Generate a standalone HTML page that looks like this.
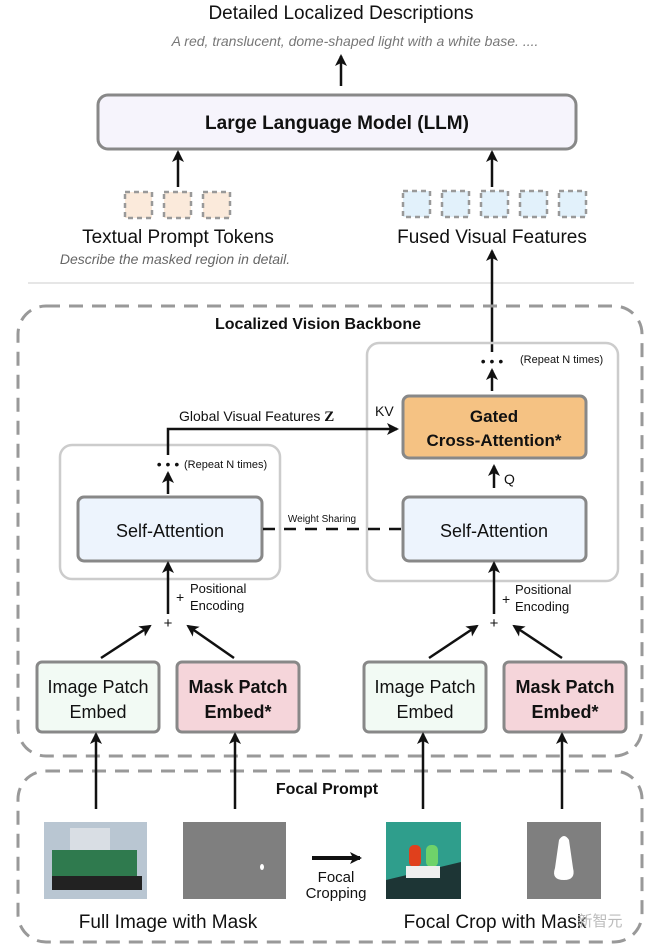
<!DOCTYPE html>
<html><head><meta charset="utf-8"><style>
body{margin:0;background:#fff}
svg{display:block;font-family:"Liberation Sans","Noto Sans CJK SC",sans-serif}
</style></head><body>
<svg width="660" height="946" viewBox="0 0 660 946" xmlns="http://www.w3.org/2000/svg">
<defs>
<marker id="a" markerWidth="12" markerHeight="12" refX="10" refY="6" orient="auto" markerUnits="userSpaceOnUse"><path d="M0,0 L12,6 L0,12 L3,6z" fill="#111"/></marker>
</defs>
<text x="341" y="19" font-size="19" text-anchor="middle" fill="#111">Detailed Localized Descriptions</text>
<text x="355" y="46" font-size="14" font-style="italic" text-anchor="middle" fill="#777">A red, translucent, dome-shaped light with a white base. ....</text>
<line x1="341" y1="86" x2="341" y2="56" stroke="#111" stroke-width="2.5" marker-end="url(#a)"/>
<rect x="98" y="95" width="478" height="54" rx="10" fill="#f6f4fc" stroke="#888" stroke-width="3"/>
<text x="337" y="129" font-size="19" font-weight="bold" text-anchor="middle" fill="#111">Large Language Model (LLM)</text>
<line x1="178" y1="187" x2="178" y2="152" stroke="#111" stroke-width="2.5" marker-end="url(#a)"/>
<line x1="492" y1="187" x2="492" y2="152" stroke="#111" stroke-width="2.5" marker-end="url(#a)"/>
<g fill="#fbeadb" stroke="#999" stroke-width="2.5" stroke-dasharray="5,4">
<rect x="125" y="192" width="27" height="26"/><rect x="164" y="192" width="27" height="26"/><rect x="203" y="192" width="27" height="26"/>
</g>
<g fill="#e2f1fb" stroke="#999" stroke-width="2.5" stroke-dasharray="5,4">
<rect x="403" y="191" width="27" height="26"/><rect x="442" y="191" width="27" height="26"/><rect x="481" y="191" width="27" height="26"/><rect x="520" y="191" width="27" height="26"/><rect x="559" y="191" width="27" height="26"/>
</g>
<text x="178" y="243" font-size="19" text-anchor="middle" fill="#111">Textual Prompt Tokens</text>
<text x="175" y="264" font-size="14" font-style="italic" text-anchor="middle" fill="#666">Describe the masked region in detail.</text>
<text x="492" y="243" font-size="19" text-anchor="middle" fill="#111">Fused Visual Features</text>
<line x1="28" y1="283" x2="634" y2="283" stroke="#ccc" stroke-width="1"/>
<line x1="492" y1="352" x2="492" y2="251" stroke="#111" stroke-width="2.5" marker-end="url(#a)"/>
<rect x="18" y="306" width="624" height="450" rx="28" fill="none" stroke="#999" stroke-width="3" stroke-dasharray="14,9"/>
<text x="318" y="329" font-size="16" font-weight="bold" text-anchor="middle" fill="#111">Localized Vision Backbone</text>
<rect x="60" y="445" width="220" height="134" rx="12" fill="none" stroke="#ccc" stroke-width="2.5"/>
<rect x="367" y="343" width="251" height="238" rx="12" fill="none" stroke="#ccc" stroke-width="2.5"/>
<rect x="78" y="497" width="184" height="64" rx="6" fill="#edf4fd" stroke="#888" stroke-width="3"/>
<text x="170" y="537" font-size="18" text-anchor="middle" fill="#111">Self-Attention</text>
<rect x="403" y="497" width="183" height="64" rx="6" fill="#edf4fd" stroke="#888" stroke-width="3"/>
<text x="494" y="537" font-size="18" text-anchor="middle" fill="#111">Self-Attention</text>
<rect x="403" y="396" width="183" height="62" rx="6" fill="#f5c283" stroke="#888" stroke-width="3"/>
<text x="494" y="422" font-size="17" font-weight="bold" text-anchor="middle" fill="#111">Gated</text>
<text x="494" y="446" font-size="17" font-weight="bold" text-anchor="middle" fill="#111">Cross-Attention*</text>
<line x1="263" y1="529" x2="402" y2="529" stroke="#111" stroke-width="2.5" stroke-dasharray="12,9"/>
<text x="322" y="522" font-size="10" text-anchor="middle" fill="#111">Weight Sharing</text>
<line x1="168" y1="494" x2="168" y2="473" stroke="#111" stroke-width="2.5" marker-end="url(#a)"/>
<text x="168" y="469" font-size="14" text-anchor="middle" fill="#111">• • •</text>
<text x="184" y="468" font-size="11" fill="#111">(Repeat N times)</text>
<polyline points="168,455 168,429 397,429" fill="none" stroke="#111" stroke-width="2.5" marker-end="url(#a)"/>
<text x="179" y="421" font-size="14" fill="#111">Global Visual Features <tspan font-weight="bold" font-family="Liberation Serif,serif" font-size="15">Z</tspan></text>
<text x="375" y="416" font-size="14" fill="#111">KV</text>
<line x1="492" y1="391" x2="492" y2="370" stroke="#111" stroke-width="2.5" marker-end="url(#a)"/>
<text x="492" y="366" font-size="14" text-anchor="middle" fill="#111">• • •</text>
<text x="520" y="363" font-size="11" fill="#111">(Repeat N times)</text>
<line x1="494" y1="488" x2="494" y2="466" stroke="#111" stroke-width="2.5" marker-end="url(#a)"/>
<text x="504" y="484" font-size="14" fill="#111">Q</text>
<line x1="168" y1="614" x2="168" y2="563" stroke="#111" stroke-width="2.5" marker-end="url(#a)"/>
<text x="176" y="602" font-size="14" fill="#111">+</text>
<text x="190" y="593" font-size="13" fill="#111">Positional</text>
<text x="190" y="610" font-size="13" fill="#111">Encoding</text>
<text x="168" y="628" font-size="15" text-anchor="middle" fill="#111">+</text>
<line x1="494" y1="614" x2="494" y2="563" stroke="#111" stroke-width="2.5" marker-end="url(#a)"/>
<text x="502" y="604" font-size="14" fill="#111">+</text>
<text x="515" y="594" font-size="13" fill="#111">Positional</text>
<text x="515" y="611" font-size="13" fill="#111">Encoding</text>
<text x="494" y="628" font-size="15" text-anchor="middle" fill="#111">+</text>
<g stroke="#111" stroke-width="2.5" marker-end="url(#a)">
<line x1="101" y1="658" x2="150" y2="626"/><line x1="234" y1="658" x2="188" y2="626"/>
<line x1="429" y1="658" x2="477" y2="626"/><line x1="562" y1="658" x2="514" y2="626"/>
</g>
<rect x="37" y="662" width="122" height="70" rx="5" fill="#f2faf4" stroke="#888" stroke-width="3"/>
<text x="98" y="693" font-size="18" text-anchor="middle" fill="#111">Image Patch</text>
<text x="98" y="718" font-size="18" text-anchor="middle" fill="#111">Embed</text>
<rect x="177" y="662" width="122" height="70" rx="5" fill="#f5d5da" stroke="#888" stroke-width="3"/>
<text x="238" y="693" font-size="18" font-weight="bold" text-anchor="middle" fill="#111">Mask Patch</text>
<text x="238" y="718" font-size="18" font-weight="bold" text-anchor="middle" fill="#111">Embed*</text>
<rect x="364" y="662" width="122" height="70" rx="5" fill="#f2faf4" stroke="#888" stroke-width="3"/>
<text x="425" y="693" font-size="18" text-anchor="middle" fill="#111">Image Patch</text>
<text x="425" y="718" font-size="18" text-anchor="middle" fill="#111">Embed</text>
<rect x="504" y="662" width="122" height="70" rx="5" fill="#f5d5da" stroke="#888" stroke-width="3"/>
<text x="565" y="693" font-size="18" font-weight="bold" text-anchor="middle" fill="#111">Mask Patch</text>
<text x="565" y="718" font-size="18" font-weight="bold" text-anchor="middle" fill="#111">Embed*</text>
<rect x="18" y="771" width="624" height="171" rx="28" fill="none" stroke="#999" stroke-width="3" stroke-dasharray="14,9"/>
<text x="327" y="794" font-size="16" font-weight="bold" text-anchor="middle" fill="#111">Focal Prompt</text>
<g stroke="#111" stroke-width="2.5" marker-end="url(#a)">
<line x1="96" y1="809" x2="96" y2="734"/><line x1="235" y1="809" x2="235" y2="734"/>
<line x1="423" y1="809" x2="423" y2="734"/><line x1="562" y1="809" x2="562" y2="734"/>
</g>
<rect x="44" y="822" width="103" height="77" fill="#b9c6d2"/>
<rect x="52" y="850" width="85" height="26" fill="#2f7a4e"/>
<rect x="52" y="876" width="90" height="14" fill="#222"/>
<rect x="70" y="828" width="40" height="22" fill="#d9dee4"/>
<rect x="183" y="822" width="103" height="77" fill="#7f7f7f"/>
<ellipse cx="262" cy="867" rx="2" ry="3" fill="#fff"/>
<line x1="312" y1="858" x2="360" y2="858" stroke="#111" stroke-width="4" marker-end="url(#a)"/>
<text x="336" y="882" font-size="15" text-anchor="middle" fill="#111">Focal</text>
<text x="336" y="898" font-size="15" text-anchor="middle" fill="#111">Cropping</text>
<rect x="386" y="822" width="75" height="77" fill="#2f9e8c"/>
<polygon points="386,899 386,880 461,862 461,899" fill="#1d3535"/>
<rect x="409" y="845" width="12" height="22" rx="5" fill="#e0401c"/>
<rect x="426" y="845" width="12" height="22" rx="5" fill="#6fd26a"/>
<rect x="406" y="866" width="34" height="12" fill="#eee"/>
<rect x="527" y="822" width="74" height="77" fill="#7f7f7f"/>
<path d="M559,840 Q564,832 569,840 L573,868 Q576,880 564,880 Q551,880 555,868 Z" fill="#fff"/>
<text x="168" y="928" font-size="19" text-anchor="middle" fill="#111">Full Image with Mask</text>
<text x="495" y="928" font-size="19" text-anchor="middle" fill="#111">Focal Crop with Mask</text>
<text x="600" y="926" font-size="15" text-anchor="middle" fill="#bbb">新智元</text>
</svg>
</body></html>
